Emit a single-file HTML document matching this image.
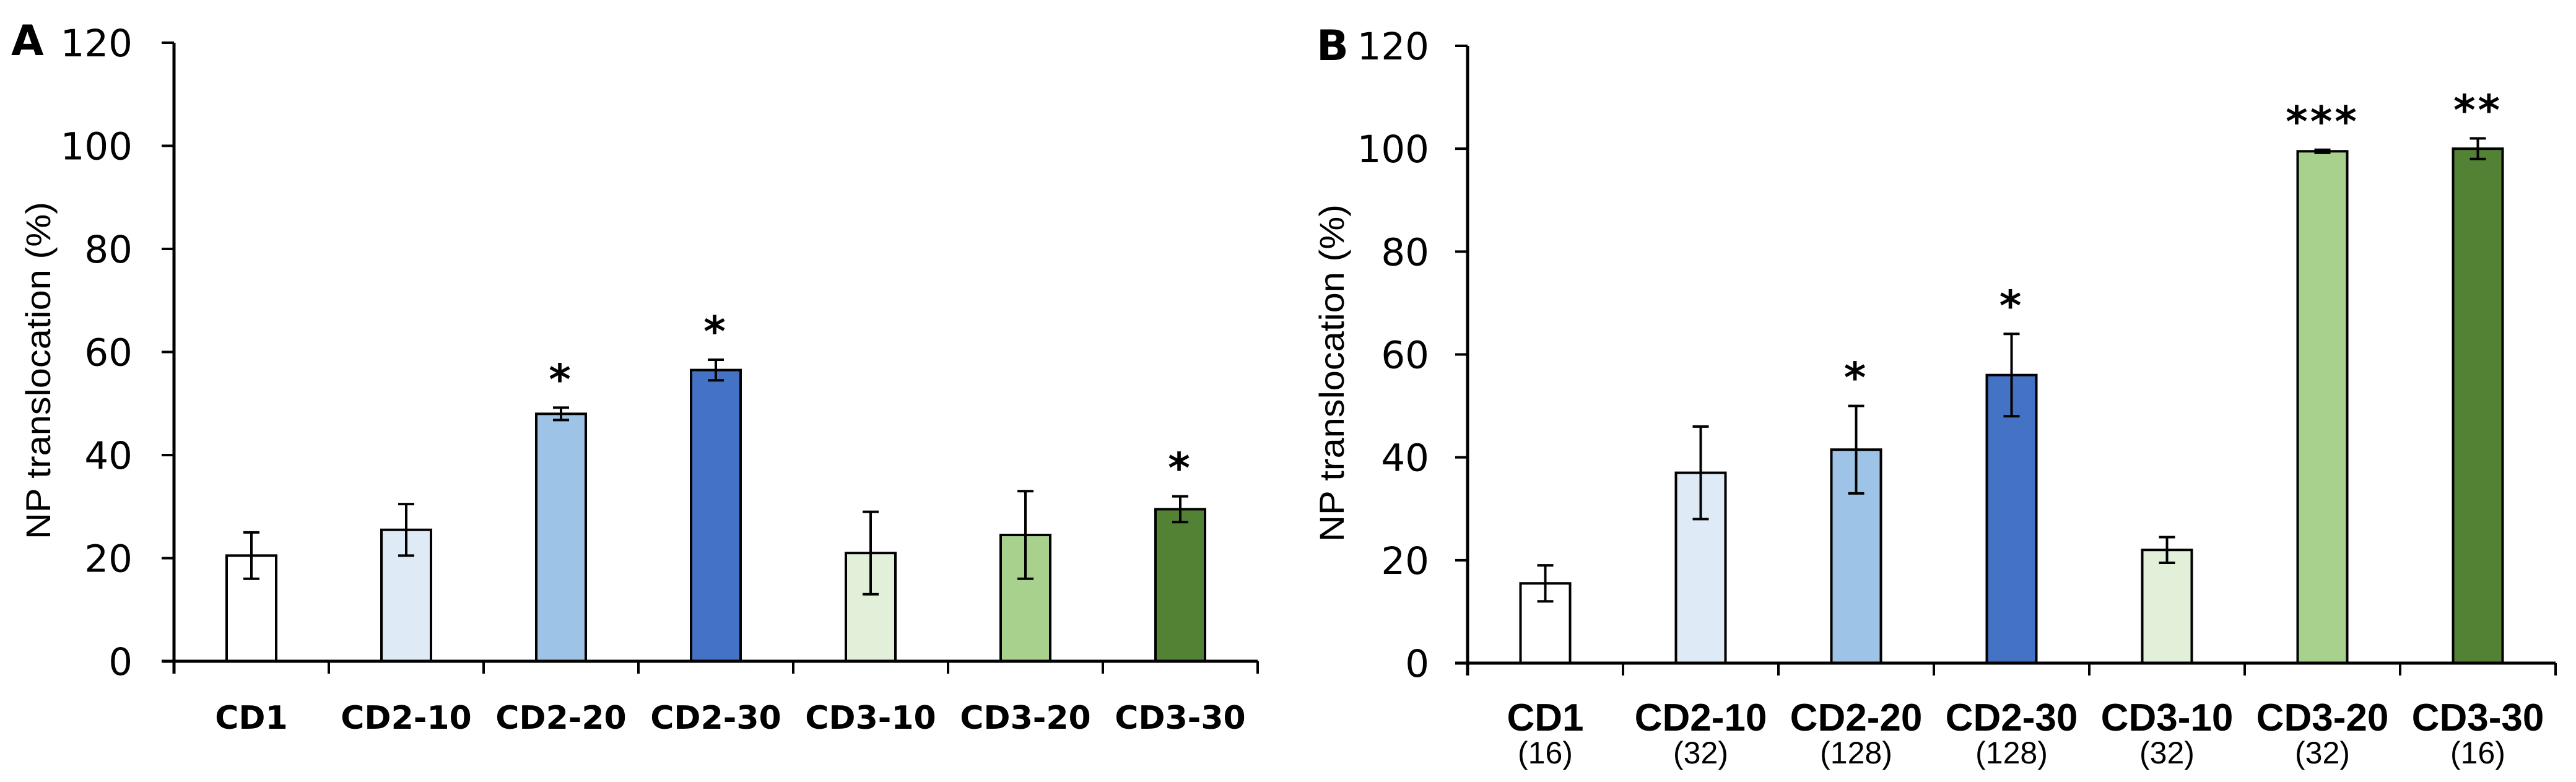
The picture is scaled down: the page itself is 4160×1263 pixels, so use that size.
<!DOCTYPE html>
<html><head><meta charset="utf-8"><style>
html,body{margin:0;padding:0;background:#fff;}
svg{display:block;}
</style></head><body>
<svg id="chart" width="4160" height="1263" viewBox="0 0 4160 1263" xmlns="http://www.w3.org/2000/svg">
<text x="18" y="89" font-family="'DejaVu Sans',sans-serif" font-weight="bold" font-size="68">A</text>
<text x="2126" y="97" font-family="'DejaVu Sans',sans-serif" font-weight="bold" font-size="68">B</text>
</svg>
<script>
const categories = ["CD1","CD2-10","CD2-20","CD2-30","CD3-10","CD3-20","CD3-30"];
const subLabelsB = ["(16)","(32)","(128)","(128)","(32)","(32)","(16)"];
const valuesA = [20.5, 25.5, 48, 56.5, 21, 24.5, 29.5];
const errorsA = [4.5, 5, 1.2, 2, 8, 8.5, 2.5];
const starsA = ["", "", "*", "*", "", "", "*"];
const valuesB = [15.5, 37, 41.5, 56, 22, 99.5, 100];
const errorsB = [3.5, 9, 8.5, 8, 2.5, 0.3, 2];
const starsB = ["", "", "*", "*", "", "***", "**"];
const yTicks = [0, 20, 40, 60, 80, 100, 120];
const colors = ["#ffffff","#deebf7","#9dc3e6","#4472c4","#e2f0d9","#a9d18e","#548235"];

const NS = "http://www.w3.org/2000/svg";
const svg = document.getElementById("chart");
function mk(tag, attrs, parent){
  const e = document.createElementNS(NS, tag);
  for (const k in attrs) e.setAttribute(k, attrs[k]);
  (parent||svg).appendChild(e);
  return e;
}

function panel(id, ax, y0, y120, band, values, errors, stars, sub){
  const g = mk("g", {});
  
  
  const yS = v => y0 - (v/120)*(y0 - y120);
  const xC = i => ax + band*(i+0.5);
  const xEnd = ax + band*categories.length;
  const bw = 80;
  yTicks.forEach(t => {
    const y = yS(t);
    const tk = mk("line", {x1: ax-20, x2: ax, y1: y, y2: y, stroke: "#000", "stroke-width": 4}, g);
    
    
    const tl = mk("text", {x: ax-(sub ? 62 : 67), y: y+22, "text-anchor": "end", "font-family": "'DejaVu Sans',sans-serif", "font-size": 61}, g);
    tl.textContent = t;
    
    
  });
  values.forEach((v, i) => {
    const x = xC(i);
    const r = mk("rect", {x: x-bw/2, y: yS(v), width: bw, height: y0 - yS(v), fill: colors[i], stroke: "#000", "stroke-width": 4}, g);
    
    
    const top = yS(v + errors[i]), bot = yS(v - errors[i]);
    const eb = mk("path", {d: `M${x},${top}V${bot}M${x-13},${top}H${x+13}M${x-13},${bot}H${x+13}`, stroke: "#000", "stroke-width": 4, fill: "none"}, g);
    
    
    if (stars[i]) {
      const s = mk("text", {x: x, y: top - 22, "text-anchor": "middle", "font-family": "'DejaVu Sans',sans-serif", "font-weight": "bold", "font-size": 68, "letter-spacing": 4}, g);
      s.textContent = stars[i];
      
      
    }
    const lbl = sub
      ? mk("text", {x: x, y: 1180, "text-anchor": "middle", "font-family": "'Liberation Sans Narrow','Liberation Sans',sans-serif", "font-weight": "bold", "font-size": 62}, g)
      : mk("text", {x: x, y: 1177, "text-anchor": "middle", "font-family": "'DejaVu Sans',sans-serif", "font-weight": "bold", "font-size": 52}, g);
    lbl.textContent = categories[i];
    
    
    if (sub) {
      const sl = mk("text", {x: x, y: 1233, "text-anchor": "middle", "font-family": "'Liberation Sans Narrow','Liberation Sans',sans-serif", "font-size": 50}, g);
      sl.textContent = sub[i];
      
      
    }
  });
  for (let i = 1; i <= categories.length; i++) {
    const xt = ax + band*i;
    const ct = mk("line", {x1: xt, x2: xt, y1: y0, y2: y0+20, stroke: "#000", "stroke-width": 4}, g);
    
    
  }
  const ya = mk("line", {x1: ax, x2: ax, y1: y120, y2: y0+20, stroke: "#000", "stroke-width": 5}, g);
  
  
  const xa = mk("line", {x1: ax-20, x2: xEnd, y1: y0, y2: y0, stroke: "#000", "stroke-width": 5}, g);
  
  
  const tx = ax - 200, ty = (y0 + y120)/2 + 30;
  const yt = mk("text", {x: tx, y: ty, transform: `rotate(-90 ${tx} ${ty})`, "text-anchor": "middle", "font-family": "'Liberation Sans Narrow','Liberation Sans',sans-serif", "font-size": 56, textLength: 545, lengthAdjust: "spacingAndGlyphs"}, g);
  yt.textContent = "NP translocation (%)";
  
  
}

panel("a", 281, 1068, 69, 250, valuesA, errorsA, starsA, null);
panel("b", 2370, 1071, 74, 251, valuesB, errorsB, starsB, subLabelsB);
</script>
</body></html>
